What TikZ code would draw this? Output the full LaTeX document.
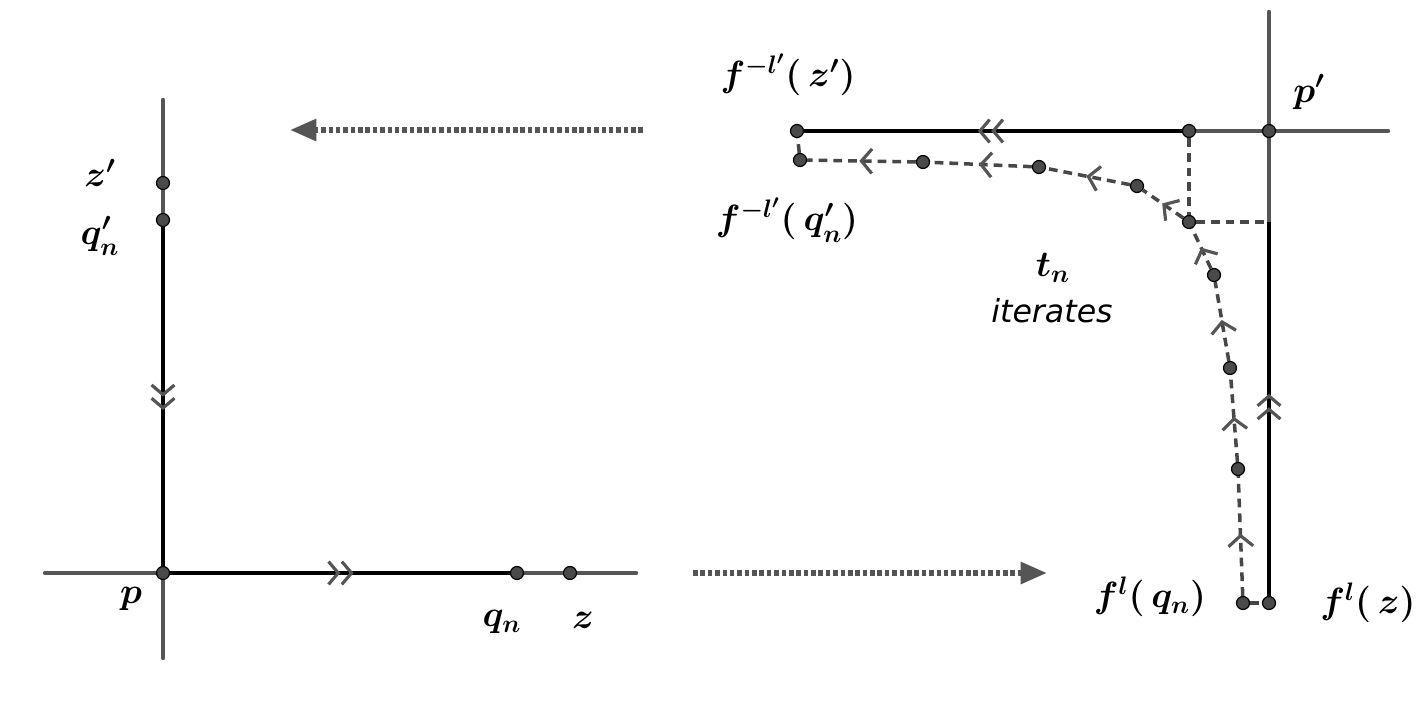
\documentclass[tikz,border=0pt]{standalone}
\usepackage{amsmath}
\usepackage{fontspec}
\newfontfamily\itersans{DejaVu Sans}
\usetikzlibrary{arrows.meta,decorations.markings}
\definecolor{axisgray}{HTML}{555555}
\definecolor{dotgray}{HTML}{4A4A4A}
\definecolor{dashgray}{HTML}{474747}
\tikzset{
	chev/.style={postaction={decorate}, decoration={markings,
			mark=at position 0.52 with {\arrow{Straight Barb[color=axisgray, length=6pt, width=14pt, line width=1.8pt]}}}},
	dchev/.style={postaction={decorate}, decoration={markings,
			mark=at position 0.54 with {\arrow{Straight Barb[color=axisgray, length=5.5pt, width=13pt, line width=1.8pt] Straight Barb[color=axisgray, length=5.5pt, width=13pt, line width=1.8pt]}}}}
}

\begin{document}
\begin{tikzpicture}[
    x=0.02cm, y=-0.02cm,
    v/.style={circle, draw=black, fill=dotgray, line width=0.7pt, inner sep=0pt, minimum size=0.26cm},
    axis/.style={draw=axisgray, line width=2.5pt, line cap=round},
    seg/.style={draw=black, line width=2.5pt},
    orbit/.style={draw=dashgray, line width=2pt, dash pattern=on 5pt off 3.4pt},
    flow/.style={draw=axisgray, line width=3.2pt, dash pattern=on 2.6pt off 1.6pt, -{Triangle[length=15pt, width=12pt]}},
    lab/.style={font=\fontsize{22}{26}\selectfont\boldmath, inner sep=0pt}
  ]
    \useasboundingbox (0,0) rectangle (1424,726);

    % axes at p and p'
    \coordinate (hl) at (45,573);
    \coordinate (hr) at (636,573);
    \coordinate (vt) at (163,100);
    \coordinate (vb) at (163,658);
    \coordinate (hl2) at (1189,131);
    \coordinate (hr2) at (1388,131);
    \coordinate (vt2) at (1269,12);
    \coordinate (c) at (1269,222);
    \draw[axis] (hl) -- (hr);
    \draw[axis] (vt) -- (vb);
    \draw[axis] (hl2) -- (hr2);
    \draw[axis] (vt2) -- (c);

    % points, left picture
    \node[v] (p) at (163,573) {};
    \node[v] (zp) at (163,183) {};
    \node[v] (qnp) at (163,220) {};
    \node[v] (qn) at (517,573) {};
    \node[v] (z) at (570,573) {};

    % points, right picture
    \node[v] (pp) at (1269,131) {};
    \node[v] (a) at (1189,131) {};
    \node[v] (fzp) at (797,131) {};
    \node[v] (fz) at (1269,603) {};
    \node[v] (o0) at (1243,603) {};
    \node[v] (o1) at (1238,469) {};
    \node[v] (o2) at (1230,368) {};
    \node[v] (o3) at (1214,275) {};
    \node[v] (o4) at (1189,222) {};
    \node[v] (o5) at (1137,186) {};
    \node[v] (o6) at (1039,167) {};
    \node[v] (o7) at (923,162) {};
    \node[v] (o8) at (800,160) {};

    \draw[seg, dchev] (qnp) -- (p);
    \draw[seg, dchev] (p) -- (qn);
    \draw[seg, dchev] (a) -- (fzp);
    \draw[seg, dchev] (fz) -- (c);

    \draw[orbit] (a) -- (o4);
    \draw[orbit] (o4) -- (c);
    \draw[orbit] (o0) -- (fz);
    \draw[orbit] (o8) -- (fzp);
    \foreach \i/\j in {o0/o1, o1/o2, o2/o3, o3/o4, o4/o5, o5/o6, o6/o7, o7/o8}
      \draw[orbit, chev] (\i) -- (\j);

    % maps between the pictures
    \coordinate (m1) at (643,130);
    \coordinate (m2) at (290,130);
    \coordinate (m3) at (693,573);
    \coordinate (m4) at (1047,573);
    \draw[flow] (m1) -- (m2);
    \draw[flow] (m3) -- (m4);

    % labels
    \node[lab] (lzp) at (100,173) {$z'$};
    \node[lab] (lqnp) at (100,236) {$q'_n$};
    \node[lab] (lp) at (131,599) {$p$};
    \node[lab] (lqn) at (502,622) {$q_n$};
    \node[lab] (lz) at (583,620) {$z$};
    \node[lab] (lfzp) at (788,75) {$f^{-l'}(\,z')$};
    \node[lab] (lfqnp) at (787,220) {$f^{-l'}(\,q'_n)$};
    \node[lab] (lpp) at (1309,92) {$p'$};
    \node[lab] (ltn) at (1053,268) {$t_n$};
    \node[font=\fontsize{18}{22}\selectfont\itersans\itshape, inner sep=0pt] (liter) at (1052,311) {iterates};
    \node[lab] (lfqn) at (1150,597) {$f^{l}(\,q_n)$};
    \node[lab] (lfz) at (1368,603) {$f^{l}(\,z)$};
\end{tikzpicture}
\end{document}
